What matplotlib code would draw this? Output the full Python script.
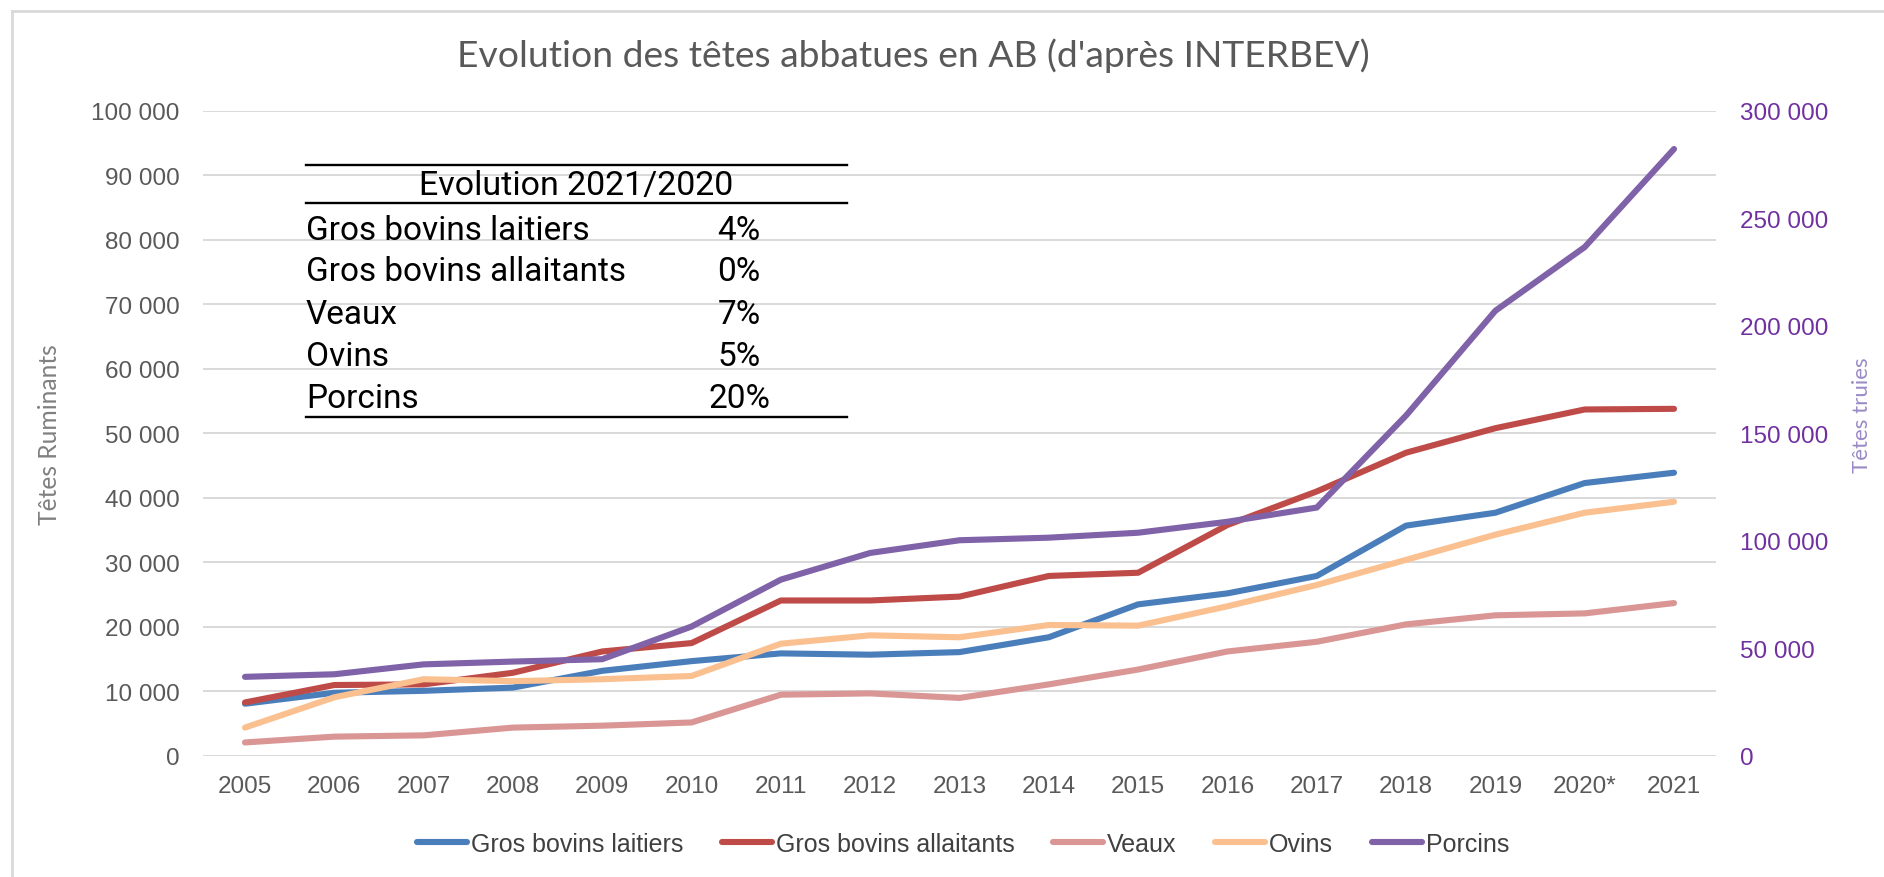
import matplotlib
matplotlib.use("Agg")
import matplotlib.pyplot as plt
from matplotlib.lines import Line2D

# ---------------- data ----------------
years = ["2005", "2006", "2007", "2008", "2009", "2010", "2011", "2012", "2013",
         "2014", "2015", "2016", "2017", "2018", "2019", "2020*", "2021"]
laitiers = [8100, 9800, 10100, 10600, 13200, 14700, 15900, 15700, 16100,
            18400, 23500, 25200, 27900, 35700, 37700, 42300, 43900]
allaitants = [8300, 11000, 11100, 12900, 16200, 17500, 24100, 24100, 24700,
              27900, 28400, 35800, 41000, 47000, 50800, 53700, 53800]
veaux = [2100, 3000, 3200, 4400, 4700, 5200, 9500, 9700, 9000,
         11100, 13400, 16200, 17700, 20400, 21800, 22100, 23700]
ovins = [4400, 9100, 11900, 11600, 11900, 12400, 17400, 18700, 18400,
         20300, 20200, 23200, 26500, 30400, 34300, 37700, 39400]
porcins = [36800, 38000, 42600, 43900, 45000, 60200, 82000, 94400, 100300,
           101500, 103800, 108900, 115500, 158300, 207000, 236600, 282200]

series_names = ["Gros bovins laitiers", "Gros bovins allaitants", "Veaux", "Ovins", "Porcins"]
table_labels = ["Gros bovins laitiers", "Gros bovins allaitants", "Veaux", "Ovins", "Porcins"]
table_pcts = ["4%", "0%", "7%", "5%", "20%"]

left_ticks = list(range(0, 100001, 10000))
right_ticks = list(range(0, 300001, 50000))

# ---------------- layout helpers ----------------
W, H = 1884, 878
fig = plt.figure(figsize=(W / 100, H / 100), dpi=100)
fig.patch.set_facecolor("white")


def fx(px):
    return px / W


def fy(py):
    return 1 - py / H


colors = ["#4A7EBB", "#BE4B48", "#D99694", "#FAC090", "#7F62A8"]
LW = 4.4
tick_font = "Liberation Sans"

ax = fig.add_axes([fx(203), fy(757), fx(1716) - fx(203), fy(111.7) - fy(757)])
ax2 = ax.twinx()

x = list(range(len(years)))
handles = []
for vals, c, name in zip([laitiers, allaitants, veaux, ovins], colors[:4], series_names[:4]):
    h, = ax.plot(x, vals, color=c, lw=LW, solid_capstyle="round",
                 solid_joinstyle="round", label=name, zorder=3)
    handles.append(h)
h, = ax2.plot(x, porcins, color=colors[4], lw=LW, solid_capstyle="round",
              solid_joinstyle="round", label=series_names[4], zorder=3)
handles.append(h)

ax.set_xlim(-0.47, 16.47)
ax.set_ylim(0, 100000)
ax2.set_ylim(0, 300000)

ax.set_yticks(left_ticks)
ax.set_yticklabels([f"{v:,}".replace(",", " ") for v in left_ticks])
ax2.set_yticks(right_ticks)
ax2.set_yticklabels([f"{v:,}".replace(",", " ") for v in right_ticks])
ax.set_xticks(x)
ax.set_xticklabels(years)

ax.grid(axis="y", color="#D9D9D9", lw=1.4)
ax.set_axisbelow(True)
for a in (ax, ax2):
    for s in a.spines.values():
        s.set_visible(False)

ax.tick_params(axis="y", length=0, pad=17, labelsize=17.5, labelcolor="#595959")
ax.tick_params(axis="x", length=0, pad=14, labelsize=17.5, labelcolor="#595959")
ax2.tick_params(axis="y", length=0, pad=17, labelsize=17.5, labelcolor="#7030A0")
for lab in ax.get_xticklabels() + ax.get_yticklabels() + ax2.get_yticklabels():
    lab.set_fontfamily(tick_font)

# ---------------- texts ----------------
title = fig.text(fx(913), fy(56), "Evolution des têtes abbatues en AB (d'après INTERBEV)",
                 ha="center", va="center", fontsize=24, color="#595959", family="Lato")
ylab_l = fig.text(fx(50), fy(435), "Têtes Ruminants", rotation=90, ha="center", va="center",
                  fontsize=18, color="#808080", family="Lato")
ylab_r = fig.text(fx(1862), fy(415), "Têtes truies", rotation=90, ha="center", va="center",
                  fontsize=18, color="#9A8AC6", family="Lato")

# table
tbl_font = "Roboto"
for yy in (166, 204, 418):
    fig.add_artist(Line2D([fx(306), fx(847)], [fy(yy), fy(yy)], transform=fig.transFigure,
                          color="black", lw=1.7))
header = fig.text(fx(576), fy(186), "Evolution 2021/2020", ha="center", va="center",
                  fontsize=22, color="black", family=tbl_font)
row_y = [231, 272, 315, 357, 399]
row_texts = []
for lab, pct, yy in zip(table_labels, table_pcts, row_y):
    t1 = fig.text(fx(306), fy(yy), lab, ha="left", va="center", fontsize=22,
                  color="black", family=tbl_font)
    t2 = fig.text(fx(739), fy(yy), pct, ha="center", va="center", fontsize=22,
                  color="black", family=tbl_font)
    row_texts += [t1, t2]

# border
fig.add_artist(Line2D([fx(12), 1.0], [fy(12), fy(12)], transform=fig.transFigure,
                      color="#D9D9D9", lw=2))
fig.add_artist(Line2D([fx(12), fx(12)], [fy(12), 0.0], transform=fig.transFigure,
                      color="#D9D9D9", lw=2))

# legend
leg = fig.legend(handles, series_names, loc="center", bbox_to_anchor=(fx(963), fy(845)),
                 ncol=5, frameon=False, handlelength=2.0,
                 handletextpad=0.15, columnspacing=1.55,
                 prop={"family": tick_font, "size": 18})
for t in leg.get_texts():
    t.set_color("#404040")

# ---------------- fit text sizes to reference widths ----------------
fig.canvas.draw()
r = fig.canvas.get_renderer()


def fit(t, target, vertical=False):
    bb = t.get_window_extent(renderer=r)
    w = bb.height if vertical else bb.width
    return t.get_fontsize() * target / w


title.set_fontsize(fit(title, 913))
header.set_fontsize(fit(header, 315))
ylab_l.set_fontsize(fit(ylab_l, 180, vertical=True))
ylab_r.set_fontsize(fit(ylab_r, 115, vertical=True))
row_size = fit(row_texts[2], 321)
for t in row_texts:
    t.set_fontsize(row_size)

fig.savefig("out.png", dpi=100, facecolor="white")
